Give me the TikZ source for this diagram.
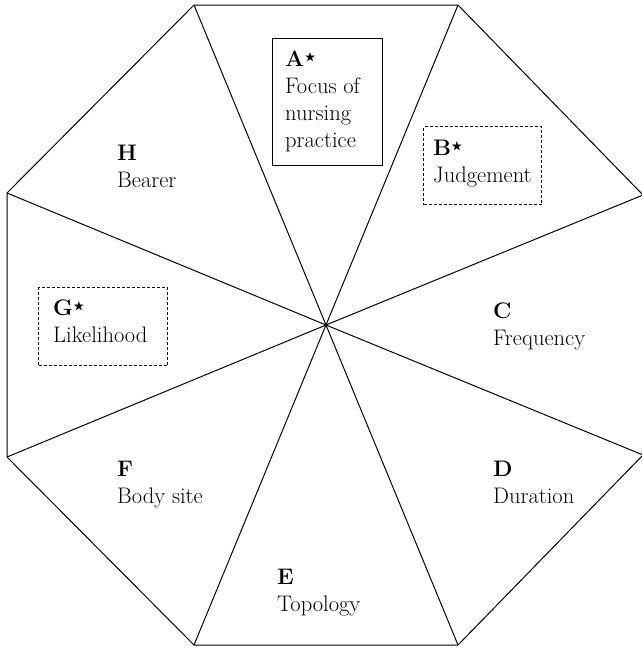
\documentclass[tikz,border=0pt]{standalone}
\usepackage{amssymb}
\newcommand{\mystar}{\kern0.5pt\raisebox{0.6ex}{$\scriptscriptstyle\bigstar$}}
\begin{document}
\begin{tikzpicture}[x=1pt,y=-1pt,
  edge/.style={line width=1pt,black},
  lbl/.style={anchor=base west,inner sep=0pt,font=\fontsize{22.5}{27}\selectfont},
  solidbox/.style={draw,line width=1pt,anchor=north west,inner sep=0pt},
  dashbox/.style={draw,line width=1pt,dash pattern=on 3pt off 2pt,anchor=north west,inner sep=0pt}]
\useasboundingbox (0,0) rectangle (641,649);
% octagon vertices and centre
\coordinate (v1) at (194,5);
\coordinate (v2) at (458,5);
\coordinate (v3) at (643,195);
\coordinate (v4) at (643,455);
\coordinate (v5) at (458,645);
\coordinate (v6) at (194,645);
\coordinate (v7) at (7,457);
\coordinate (v8) at (7,193);
\coordinate (O) at (326,325);
\draw[edge,line join=miter] (v1) -- (v2) -- (v3) -- (v4) -- (v5) -- (v6) -- (v7) -- (v8) -- cycle;
\foreach \v in {v1,v2,v3,v4,v5,v6,v7,v8} \draw[edge] (O) -- (\v);
% boxes
\node[solidbox,minimum width=110pt,minimum height=127pt] (Abox) at (272,38) {};
\node[dashbox,minimum width=118pt,minimum height=78pt] (Bbox) at (423,126) {};
\node[dashbox,minimum width=129pt,minimum height=78pt] (Gbox) at (38,287) {};
% labels
\node[lbl] (A1) at (285,66) {\textbf{A}\mystar};
\node[lbl] (A2) at (285,93) {Focus of};
\node[lbl] (A3) at (285,120) {nursing};
\node[lbl] (A4) at (285,147) {practice};
\node[lbl] (B1) at (433,155) {\textbf{B}\mystar};
\node[lbl] (B2) at (433,182) {Judgement};
\node[lbl] (C1) at (493,318) {\textbf{C}};
\node[lbl] (C2) at (493,345) {Frequency};
\node[lbl] (D1) at (493,476) {\textbf{D}};
\node[lbl] (D2) at (493,503) {Duration};
\node[lbl] (E1) at (277,584) {\textbf{E}};
\node[lbl] (E2) at (277,611) {Topology};
\node[lbl] (F1) at (117,476) {\textbf{F}};
\node[lbl] (F2) at (117,503) {Body site};
\node[lbl] (G1) at (53,315) {\textbf{G}\mystar};
\node[lbl] (G2) at (53,342) {Likelihood};
\node[lbl] (H1) at (117,160) {\textbf{H}};
\node[lbl] (H2) at (117,187) {Bearer};
\end{tikzpicture}
\end{document}
